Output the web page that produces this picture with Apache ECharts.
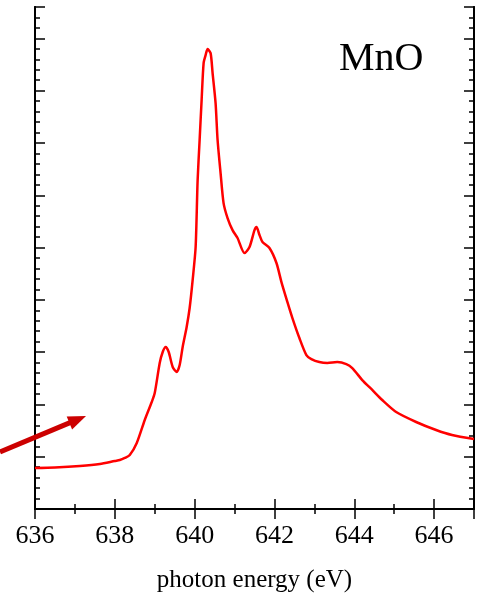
<!DOCTYPE html>
<html>
<head>
<meta charset="utf-8">
<script src="https://cdn.jsdelivr.net/npm/echarts@6/dist/echarts.min.js"></script>
<style>
  html, body { margin: 0; padding: 0; background: #fff; }
  #chart { width: 481px; height: 593px; }
</style>
</head>
<body>
<div id="chart"></div>
<script>
// MnO L3-edge spectrum
var energy = [636.0, 636.5, 637.125, 637.625, 638.0, 638.125, 638.25, 638.375, 638.55, 638.75, 638.925, 639.0,
  639.125, 639.2, 639.275, 639.35, 639.45, 639.55, 639.625, 639.7, 639.8, 639.875, 639.95, 640.025,
  640.075, 640.125, 640.175, 640.225, 640.275, 640.325, 640.4, 640.45, 640.525, 640.575, 640.65, 640.725,
  640.825, 640.95, 641.075, 641.25, 641.375, 641.5, 641.55, 641.625, 641.7, 641.875, 642.05, 642.175,
  642.325, 642.45, 642.625, 642.8, 642.925, 643.125, 643.325, 643.575, 643.8, 643.95, 644.2, 644.45,
  644.7, 645.05, 645.55, 646.05, 646.45, 647.0];
var intensity = [3.92, 3.97, 4.11, 4.30, 4.59, 4.68, 4.88, 5.16, 6.31, 8.51, 10.23, 11.09,
  13.96, 15.01, 15.49, 15.01, 13.58, 13.10, 13.77, 15.49, 17.40, 19.22, 21.89, 25.05,
  31.45, 35.28, 39.10, 42.64, 43.40, 43.98, 43.59, 41.68, 38.81, 35.28, 32.12, 29.25,
  27.82, 26.67, 25.91, 24.47, 25.05, 26.67, 26.96, 26.20, 25.53, 24.95, 23.52, 21.70,
  19.79, 18.26, 16.35, 14.72, 14.34, 14.05, 13.96, 14.05, 13.86, 13.48, 12.33, 11.38,
  10.42, 9.27, 8.32, 7.55, 7.07, 6.69];

var xTitle = 'photon energy (eV)';
var sample = 'MnO';

var serif = '"Liberation Serif", "Times New Roman", serif';

var points = energy.map(function (e, i) { return [e, intensity[i]]; });

// one axis for long ticks, one for short ticks, on each side of the box
function xAx(pos, step, len, labels) {
  return {
    type: 'value', position: pos, min: 636, max: 647, interval: step,
    axisLine: { show: true, lineStyle: { color: '#000', width: 2 } },
    axisTick: { show: true, inside: true, length: len, lineStyle: { color: '#000', width: 1.5 } },
    axisLabel: labels ? {
      show: true, showMaxLabel: false, color: '#000', fontFamily: serif, fontSize: 26, margin: 14
    } : { show: false },
    splitLine: { show: false },
    name: labels ? xTitle : '',
    nameLocation: 'middle', nameGap: 59,
    nameTextStyle: { color: '#000', fontFamily: serif, fontSize: 25 }
  };
}
function yAx(pos, step, len) {
  return {
    type: 'value', position: pos, min: 0, max: 48, interval: step,
    axisLine: { show: true, lineStyle: { color: '#000', width: 2 } },
    axisTick: { show: true, inside: true, length: len, lineStyle: { color: '#000', width: 1.5 } },
    axisLabel: { show: false },
    splitLine: { show: false }
  };
}

var chart = echarts.init(document.getElementById('chart'), null, { renderer: 'canvas' });

// arrow pointing at the pre-edge, drawn as an annotation
var tip = [86, 416], tail = [0, 452];
var dx = tip[0] - tail[0], dy = tip[1] - tail[1];
var d = Math.sqrt(dx * dx + dy * dy), ux = dx / d, uy = dy / d;
var hl = 18, hw = 7;
var bx = tip[0] - hl * ux, by = tip[1] - hl * uy;

chart.setOption({
  animation: false,
  backgroundColor: '#fff',
  grid: { left: 35, right: 7, top: 7, bottom: 84, containLabel: false, outerBoundsMode: 'none' },
  title: {
    text: sample, left: 339, top: 39, padding: 0,
    textStyle: { color: '#000', fontFamily: serif, fontSize: 40, fontWeight: 'normal' }
  },
  xAxis: [
    xAx('bottom', 2, 10, true),
    xAx('bottom', 1, 5, false),
    xAx('top', 2, 10, false),
    xAx('top', 1, 5, false)
  ],
  yAxis: [
    yAx('left', 5, 10),
    yAx('left', 1, 5),
    yAx('right', 5, 10),
    yAx('right', 1, 5)
  ],
  series: [{
    type: 'line',
    xAxisIndex: 0, yAxisIndex: 0,
    data: points,
    showSymbol: false,
    smooth: 0.25,
    lineStyle: { color: '#ff0000', width: 2.5 },
    itemStyle: { color: '#ff0000' }
  }],
  graphic: [
    {
      type: 'line', z: 100,
      shape: { x1: tail[0], y1: tail[1], x2: bx + 2 * ux, y2: by + 2 * uy },
      style: { stroke: '#cc0000', lineWidth: 5 }
    },
    {
      type: 'polygon', z: 100,
      shape: { points: [tip, [bx - hw * uy, by + hw * ux], [bx + hw * uy, by - hw * ux]] },
      style: { fill: '#cc0000' }
    }
  ]
});
</script>
</body>
</html>
